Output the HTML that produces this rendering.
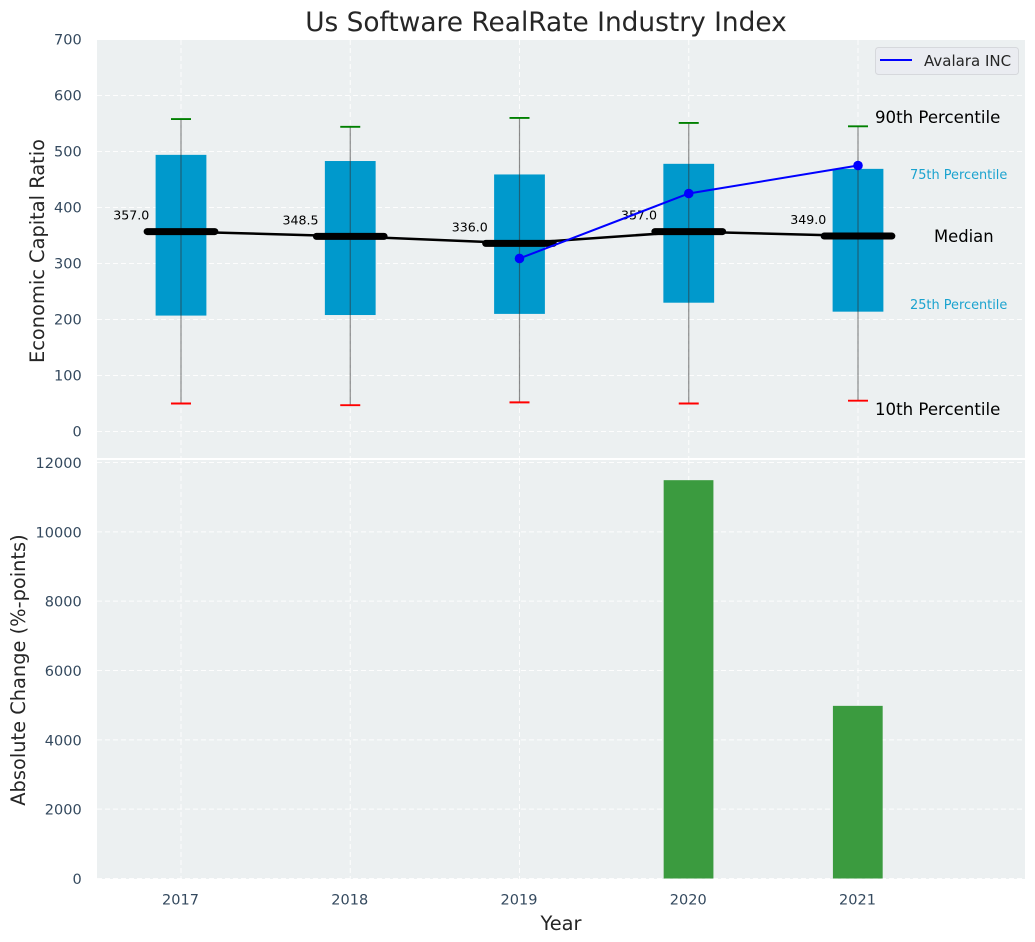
<!DOCTYPE html>
<html>
<head>
<meta charset="utf-8">
<style>
html,body{margin:0;padding:0;background:#fff;}
svg{display:block;font-family:"DejaVu Sans","Liberation Sans",sans-serif;}
</style>
</head>
<body>
<svg id="fig" xmlns="http://www.w3.org/2000/svg" width="1035" height="942" viewBox="0 0 1035 942">
  <text x="546" y="31" text-anchor="middle" font-size="26.4" fill="#262626">Us Software RealRate Industry Index</text>
  <rect x="97" y="40" width="928" height="418" fill="#ecf0f1"/>
  <rect x="97" y="460" width="928" height="419" fill="#ecf0f1"/>
  <g id="grid"></g>
  <g id="marks"></g>
  <g id="ticks"></g>
  <text transform="translate(44,251) rotate(-90)" text-anchor="middle" font-size="19.4" fill="#262626">Economic Capital Ratio</text>
  <text transform="translate(25,670) rotate(-90)" text-anchor="middle" font-size="19.4" fill="#262626">Absolute Change (%-points)</text>
  <text x="561" y="930" text-anchor="middle" font-size="19.4" fill="#262626">Year</text>
  <text x="875" y="123" font-size="16.6" fill="#000">90th Percentile</text>
  <text x="910" y="179" font-size="12.9" fill="#1ba3cf">75th Percentile</text>
  <text x="934" y="242" font-size="16.4" fill="#000">Median</text>
  <text x="910" y="309" font-size="12.9" fill="#1ba3cf">25th Percentile</text>
  <text x="875" y="415" font-size="16.6" fill="#000">10th Percentile</text>
  <g>
    <rect x="875.5" y="47.5" width="143" height="27" rx="3" fill="#eaecf1" stroke="#d6d8dc" stroke-width="1"/>
    <line x1="880" y1="60" x2="912" y2="60" stroke="#0000ff" stroke-width="2"/>
    <text x="924" y="66" font-size="15" fill="#262626">Avalara INC</text>
  </g>
</svg>
<script>
const years = [2017, 2018, 2019, 2020, 2021];
const p90 = [558, 544, 560, 551, 545];
const p75 = [494, 483, 459, 478, 469];
const medians = [357.0, 348.5, 336.0, 357.0, 349.0];
const p25 = [207, 208, 210, 230, 214];
const p10 = [50, 47, 52, 50, 55];
const avalara = [null, null, 309, 425, 475];
const changes = [0, 0, 0, 11490, 4980];
const topTicks = [0, 100, 200, 300, 400, 500, 600, 700];
const bottomTicks = [0, 2000, 4000, 6000, 8000, 10000, 12000];

const NS = 'http://www.w3.org/2000/svg';
const gridG = document.getElementById('grid');
const marksG = document.getElementById('marks');
const ticksG = document.getElementById('ticks');
const xs = v => 181 + (v - 2017) * 169.25;
const yTop = v => 431.5 - v * 0.56;
const yBot = v => 878.5 - v * (416 / 12000);
const DASH = '5 3';

function make(parent, tag, props) {
  const el = document.createElementNS(NS, tag);
  for (const k in props) el.setAttribute(k, props[k]);
  parent.appendChild(el);
  return el;
}

// grid: horizontal
topTicks.forEach(t => {
  const el = make(gridG, 'line', {x1: 97, x2: 1025, y1: yTop(t), y2: yTop(t), stroke: '#fff', 'stroke-width': 1, 'stroke-dasharray': DASH, opacity: 0.9});
  
  
  const lab = make(ticksG, 'text', {x: 81.7, y: yTop(t) + 5, 'text-anchor': 'end', 'font-size': 14.5, fill: '#34495e'});
  lab.textContent = t;
  
  
});
bottomTicks.forEach(t => {
  const el = make(gridG, 'line', {x1: 97, x2: 1025, y1: yBot(t), y2: yBot(t), stroke: '#fff', 'stroke-width': 1, 'stroke-dasharray': DASH, opacity: 0.9});
  
  
  const lab = make(ticksG, 'text', {x: 81.7, y: yBot(t) + 5.5, 'text-anchor': 'end', 'font-size': 14.5, fill: '#34495e'});
  lab.textContent = t;
  
  
});
// grid: vertical and x ticks
years.forEach(y => {
  const a = make(gridG, 'line', {x1: xs(y), x2: xs(y), y1: 40, y2: 458, stroke: '#fff', 'stroke-width': 1, 'stroke-dasharray': DASH, opacity: 0.9});
  
  
  const b = make(gridG, 'line', {x1: xs(y), x2: xs(y), y1: 460, y2: 879, stroke: '#fff', 'stroke-width': 1, 'stroke-dasharray': DASH, opacity: 0.9});
  
  
  const lab = make(ticksG, 'text', {x: xs(y) - 0.5, y: 904.5, 'text-anchor': 'middle', 'font-size': 14.5, fill: '#34495e'});
  lab.textContent = y;
  
  
});

const halfBox = 0.15;
years.forEach((y, i) => {
  // absolute change bar
  if (changes[i] > 0) {
    const bar = make(marksG, 'rect', {x: xs(y - halfBox) + 0.3, y: yBot(changes[i]), width: xs(y + 0.147) - xs(y - 0.147), height: yBot(0) - yBot(changes[i]), fill: '#3b9b3f'});
    
    
  }
  // interquartile box
  const box = make(marksG, 'rect', {x: xs(y - halfBox), y: yTop(p75[i]), width: xs(y + halfBox) - xs(y - halfBox), height: yTop(p25[i]) - yTop(p75[i]), fill: '#0099cc'});
  
  
});

// median connecting line
const medLine = make(marksG, 'polyline', {points: years.map((y, i) => xs(y) + ',' + yTop(medians[i])).join(' '), fill: 'none', stroke: '#000', 'stroke-width': 2.5});



years.forEach((y, i) => {
  const w = make(marksG, 'line', {x1: xs(y), x2: xs(y), y1: yTop(p90[i]), y2: yTop(p10[i]), stroke: '#333', 'stroke-width': 1.2, opacity: 0.55});
  
  
  const hi = make(marksG, 'line', {x1: xs(y) - 10, x2: xs(y) + 10, y1: yTop(p90[i]), y2: yTop(p90[i]), stroke: '#008000', 'stroke-width': 1.9});
  
  
  const lo = make(marksG, 'line', {x1: xs(y) - 10, x2: xs(y) + 10, y1: yTop(p10[i]), y2: yTop(p10[i]), stroke: '#ff0000', 'stroke-width': 1.9});
  
  
  const med = make(marksG, 'line', {x1: xs(y - 0.2), x2: xs(y + 0.2), y1: yTop(medians[i]), y2: yTop(medians[i]), stroke: '#000', 'stroke-width': 7, 'stroke-linecap': 'round'});
  
  
  const t = make(marksG, 'text', {x: xs(y - 0.19) + 0.5, y: yTop(medians[i]) - 12, 'text-anchor': 'end', 'font-size': 12.6, fill: '#000'});
  t.textContent = medians[i].toFixed(1);
  
  
});

// Avalara series
const pts = years.map((y, i) => avalara[i] === null ? null : [xs(y), yTop(avalara[i])]).filter(Boolean);
const av = make(marksG, 'polyline', {points: pts.map(p => p.join(',')).join(' '), fill: 'none', stroke: '#0000ff', 'stroke-width': 2});


pts.forEach(p => {
  const c = make(marksG, 'circle', {cx: p[0], cy: p[1], r: 4.8, fill: '#0000ff'});
  
  
});
</script>
</body>
</html>
